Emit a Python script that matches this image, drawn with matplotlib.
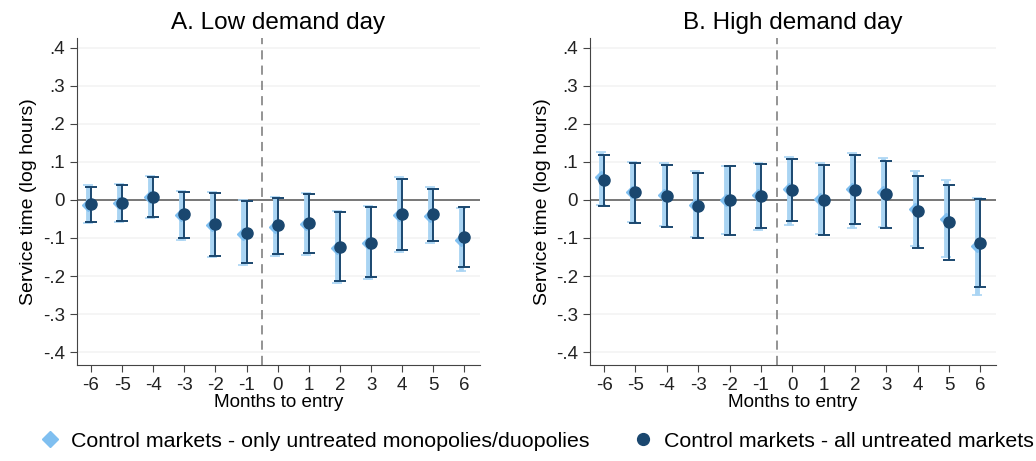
import numpy as np
import matplotlib.pyplot as plt
from matplotlib.lines import Line2D

months = np.arange(-6, 7)

# Panel A: low demand day
low_all = [-0.011, -0.007, 0.009, -0.038, -0.064, -0.086, -0.067, -0.061, -0.123, -0.112, -0.038, -0.038, -0.098]
low_all_hi = [0.035, 0.040, 0.061, 0.022, 0.018, -0.003, 0.006, 0.016, -0.032, -0.019, 0.056, 0.029, -0.018]
low_all_lo = [-0.057, -0.056, -0.044, -0.100, -0.146, -0.167, -0.142, -0.140, -0.213, -0.203, -0.132, -0.108, -0.175]

low_mono = [-0.013, -0.009, 0.007, -0.040, -0.066, -0.090, -0.070, -0.063, -0.125, -0.114, -0.040, -0.042, -0.106]
low_mono_hi = [0.038, 0.043, 0.064, 0.024, 0.020, 0.000, 0.008, 0.018, -0.030, -0.017, 0.060, 0.033, -0.020]
low_mono_lo = [-0.060, -0.059, -0.048, -0.104, -0.150, -0.172, -0.146, -0.144, -0.218, -0.208, -0.138, -0.114, -0.186]

# Panel B: high demand day
high_all = [0.053, 0.020, 0.011, -0.015, -0.001, 0.011, 0.026, 0.001, 0.026, 0.015, -0.030, -0.058, -0.112]
high_all_hi = [0.119, 0.097, 0.093, 0.072, 0.088, 0.095, 0.108, 0.093, 0.119, 0.102, 0.064, 0.038, 0.003]
high_all_lo = [-0.016, -0.060, -0.070, -0.100, -0.092, -0.075, -0.055, -0.092, -0.064, -0.074, -0.127, -0.157, -0.228]

high_mono = [0.060, 0.022, 0.013, -0.013, 0.000, 0.012, 0.028, 0.003, 0.029, 0.020, -0.025, -0.050, -0.122]
high_mono_hi = [0.125, 0.100, 0.096, 0.075, 0.090, 0.098, 0.112, 0.096, 0.123, 0.110, 0.075, 0.052, 0.005]
high_mono_lo = [-0.012, -0.058, -0.068, -0.098, -0.090, -0.080, -0.065, -0.090, -0.075, -0.070, -0.122, -0.150, -0.250]

titles = ["A. Low demand day", "B. High demand day"]
legend_labels = ["Control markets - only untreated monopolies/duopolies",
                 "Control markets - all untreated markets"]

navy = "#1a476f"
light = "#7fbff0"
light_bar = "#a9d4f3"

plt.rcParams['font.family'] = ['Liberation Sans', 'DejaVu Sans']

fig = plt.figure(figsize=(10.36, 4.61), dpi=100)
ax_pos = [[0.0743, 0.208, 0.389, 0.710], [0.5695, 0.208, 0.392, 0.710]]

panels = [
    (low_all, low_all_hi, low_all_lo, low_mono, low_mono_hi, low_mono_lo),
    (high_all, high_all_hi, high_all_lo, high_mono, high_mono_hi, high_mono_lo),
]

for pos, title, (a, ahi, alo, m, mhi, mlo) in zip(ax_pos, titles, panels):
    ax = fig.add_axes(pos)
    a, ahi, alo = map(np.array, (a, ahi, alo))
    m, mhi, mlo = map(np.array, (m, mhi, mlo))

    for yv in np.arange(-0.4, 0.41, 0.1):
        ax.axhline(yv, color="#f3f3f3", lw=1.2, zorder=0)
    ax.axhline(0, color="#555555", lw=1.1, zorder=1)
    ax.axvline(-0.5, color="#777777", lw=1.1, ls=(0, (6, 4)), zorder=1)

    xm = months - 0.1
    ax.errorbar(xm, m, yerr=[m - mlo, mhi - m], fmt="D", ms=6.5, color=light,
                ecolor=light_bar, elinewidth=3.5, capsize=3.5, capthick=1.2, zorder=2)
    ax.errorbar(months, a, yerr=[a - alo, ahi - a], fmt="o", ms=8, color=navy,
                ecolor=navy, elinewidth=1.4, capsize=4.5, capthick=1.4, zorder=3)

    ax.set_xlim(-6.45, 6.5)
    ax.set_ylim(-0.434, 0.426)
    ax.set_xticks(months)
    ax.set_xticklabels([str(v) for v in months])
    yt = np.round(np.arange(-0.4, 0.41, 0.1), 1)
    ax.set_yticks(yt)
    ax.set_yticklabels(["0" if v == 0 else ("-" if v < 0 else "") + ("%.1f" % abs(v))[1:] for v in yt])
    ax.tick_params(labelsize=13.5, length=5, color="#444444", labelcolor="#222222")
    for s in ["top", "right"]:
        ax.spines[s].set_visible(False)
    for s in ["left", "bottom"]:
        ax.spines[s].set_color("#444444")
    ax.set_xlabel("Months to entry", fontsize=13.6, labelpad=0)
    ax.set_ylabel("Service time (log hours)", fontsize=14, labelpad=4)
    ax.set_title(title, fontsize=17.5, pad=6)

handles = [
    Line2D([], [], marker="D", ls="none", color=light, ms=8),
    Line2D([], [], marker="o", ls="none", color=navy, ms=8.5),
]
fig.legend(handles, legend_labels, loc="lower center", ncol=2, frameon=False,
           fontsize=15.4, bbox_to_anchor=(0.518, -0.02), handletextpad=0.5,
           columnspacing=2.0, handlelength=1.0)

fig.savefig("out.png", dpi=100)
